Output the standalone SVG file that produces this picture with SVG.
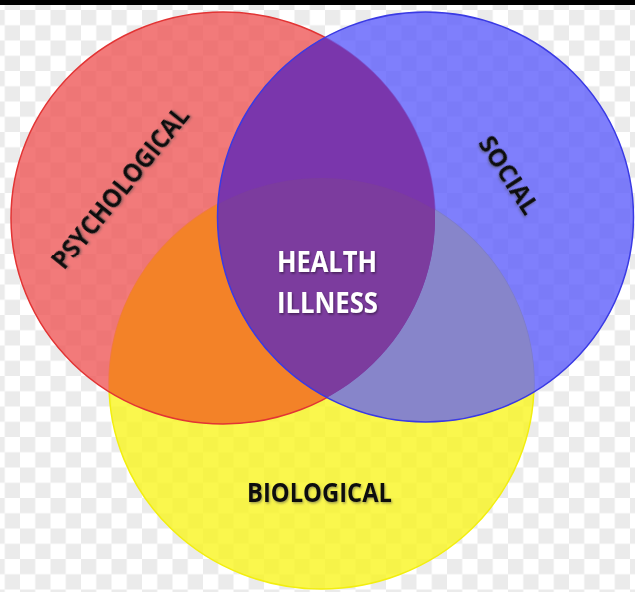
<svg xmlns="http://www.w3.org/2000/svg" xmlns:xlink="http://www.w3.org/1999/xlink" width="635" height="592" viewBox="0 0 635 592">
  <style>
    .lbl { font-family: "Open Sans", "Liberation Sans", sans-serif; font-weight: 700; }
    .dark { fill: #111; filter: url(#shD); }
    .light { fill: #fff; filter: url(#shL); }
  </style>
  <defs>
    <pattern id="chk" x="20" y="10" width="30.5" height="30.5" patternUnits="userSpaceOnUse">
      <rect width="30.5" height="30.5" fill="#ffffff"/>
      <rect width="15.25" height="15.25" fill="#ebebeb"/>
      <rect x="15.25" y="15.25" width="15.25" height="15.25" fill="#ebebeb"/>
    </pattern>
    <ellipse id="eR" cx="223" cy="218" rx="212" ry="206"/>
    <ellipse id="eB" cx="425.5" cy="217" rx="208" ry="205"/>
    <ellipse id="eY" cx="321.5" cy="383.5" rx="212.5" ry="205.5"/>
    <clipPath id="cR"><use xlink:href="#eR"/></clipPath>
    <clipPath id="cY"><use xlink:href="#eY"/></clipPath>
    <filter id="shD" x="-10%" y="-30%" width="120%" height="160%">
      <feDropShadow dx="1" dy="1.5" stdDeviation="1" flood-color="#444" flood-opacity="0.5"/>
    </filter>
    <filter id="shL" x="-10%" y="-30%" width="120%" height="160%">
      <feDropShadow dx="1" dy="1.5" stdDeviation="1" flood-color="#000" flood-opacity="0.45"/>
    </filter>
  </defs>

  <rect width="635" height="592" fill="url(#chk)"/>
  <rect width="635" height="5" fill="#000"/>

  <g id="biological">
    <use xlink:href="#eY" fill="rgb(249,245,33)" fill-opacity="0.8"/>
    <use xlink:href="#eY" fill="none" stroke="#f2ee10" stroke-width="1.5"/>
  </g>

  <g id="psychological">
    <use xlink:href="#eR" fill="rgb(239,89,89)" fill-opacity="0.8"/>
    <g clip-path="url(#cY)">
      <use xlink:href="#eR" fill="rgb(243,130,40)"/>
    </g>
    <use xlink:href="#eR" fill="none" stroke="#e23434" stroke-width="1.5"/>
  </g>

  <g id="social">
    <use xlink:href="#eB" fill="rgb(95,95,251)" fill-opacity="0.8"/>
    <g clip-path="url(#cY)">
      <use xlink:href="#eB" fill="rgb(135,133,202)"/>
    </g>
    <g clip-path="url(#cR)">
      <use xlink:href="#eB" fill="rgb(122,54,172)"/>
      <g clip-path="url(#cY)">
        <use xlink:href="#eB" fill="rgb(124,60,158)"/>
      </g>
    </g>
    <use xlink:href="#eB" fill="none" stroke="#3a3ae4" stroke-width="1.5"/>
  </g>

  <g id="labels">
    <text class="lbl dark" transform="translate(120,187.5) rotate(-51)" x="0" y="9.5" font-size="26" text-anchor="middle" textLength="200" lengthAdjust="spacingAndGlyphs">PSYCHOLOGICAL</text>
    <text class="lbl dark" transform="translate(509,175) rotate(57)" x="0" y="9" font-size="25" text-anchor="middle" textLength="88" lengthAdjust="spacingAndGlyphs">SOCIAL</text>
    <text class="lbl light" x="327" y="272" font-size="29" text-anchor="middle" textLength="100" lengthAdjust="spacingAndGlyphs">HEALTH</text>
    <text class="lbl light" x="327.5" y="313" font-size="29" text-anchor="middle" textLength="101" lengthAdjust="spacingAndGlyphs">ILLNESS</text>
    <text class="lbl dark" x="319.5" y="502" font-size="26" text-anchor="middle" textLength="145" lengthAdjust="spacingAndGlyphs">BIOLOGICAL</text>
  </g>
</svg>
